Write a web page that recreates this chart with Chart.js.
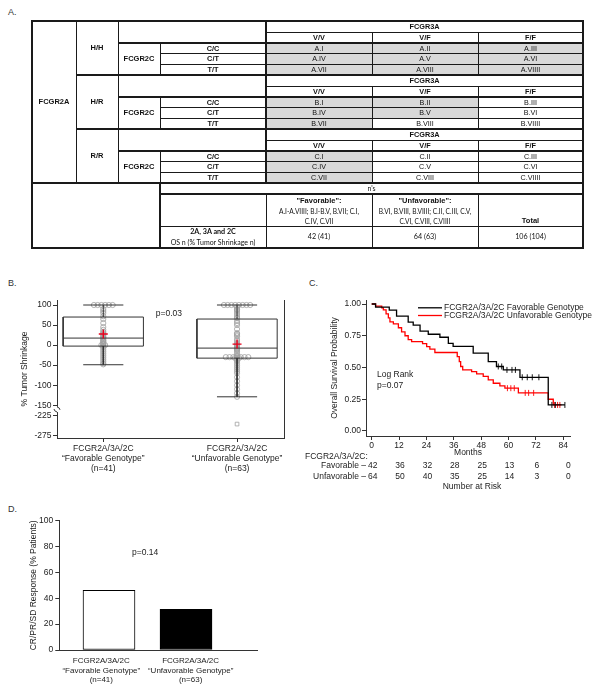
<!DOCTYPE html>
<html><head><meta charset="utf-8">
<script src="https://cdn.jsdelivr.net/npm/chart.js@4.4.1/dist/chart.umd.min.js"></script>
<style>
body{margin:0;background:#fff;width:598px;height:696px;position:relative;overflow:hidden;font-family:"Liberation Sans",Arial,sans-serif;color:#111}
canvas{position:absolute}
.lbl{position:absolute;font-size:9px;line-height:9px;color:#333}
#tbl{position:absolute;left:0;top:0;width:598px;height:260px;filter:grayscale(1);will-change:transform}
#tbl div{position:absolute;box-sizing:border-box}
.t{display:flex;align-items:center;justify-content:center;text-align:center;line-height:1;white-space:nowrap;color:#111}
</style></head><body>
<div class="lbl" style="left:8px;top:8px">A.</div>
<div class="lbl" style="left:8px;top:279px">B.</div>
<div class="lbl" style="left:309px;top:279px">C.</div>
<div class="lbl" style="left:8px;top:505px">D.</div>
<div id="tbl"></div>
<canvas id="cb" width="300" height="192" style="left:0;top:290px"></canvas>
<canvas id="cc" width="298" height="210" style="left:300px;top:290px"></canvas>
<canvas id="cd" width="300" height="191" style="left:0;top:505px"></canvas>
<script>
// ================= DATA =================
// Panel A
const blockGeno2A = ['H/H','H/R','R/R'];
const blockLetters = ['A','B','C'];
const geno2C = ['C/C','C/T','T/T'];
const geno3A = ['V/V','V/F','F/F'];
const numerals = ['I','II','III','IV','V','VI','VII','VIII','VIIII'];
const favorableCells = [[1,1,1,1,1,1,1,1,1],[1,1,0,1,1,0,1,0,0],[1,0,0,1,0,0,1,0,0]];
const groupTitles = ['"Favorable":','"Unfavorable":','Total'];
const groupMembers = [['A.I-A.VIIII; B.I-B.V, B.VII; C.I,','C.IV, C.VII'],['B.VI, B.VIII, B.VIIII; C.II, C.III, C.V,','C.VI, C.VIII, C.VIIII'],[]];
const groupCounts = ['42 (41)','64 (63)','106 (104)'];

// Shared categories (B, D)
const groupLabels = [['FCGR2A/3A/2C','“Favorable Genotype”','(n=41)'],['FCGR2A/3A/2C','“Unfavorable Genotype”','(n=63)']];

// Panel B (% tumor shrinkage)
const shrinkTicks = [100,50,0,-50,-100,-150,-225,-275];
const shrinkFav = [100,100,100,100,100,100,90,85,80,72,65,55,45,38,33,30,27,25,22,19,18,15,12,10,8,5,3,2,0,0,-2,-5,-10,-15,-20,-25,-30,-35,-40,-45,-48];
const shrinkUnf = [100,100,100,100,100,100,100,100,95,90,88,85,80,75,70,67,60,55,50,40,30,28,25,22,15,10,5,2,0,-2,-5,-8,-10,-12,-15,-20,-25,-28,-30,-30,-30,-30,-30,-30,-30,-32,-32,-35,-38,-40,-45,-50,-55,-60,-65,-70,-80,-90,-100,-110,-120,-129,-247];
const whiskerHigh = [100,100];
const quartile3 = [70,65];
const medians = [17.5,-7.5];
const quartile1 = [-2.5,-32.5];
const whiskerLow = [-49,-129];
const means = [27.5,2.5];

// Panel C (Kaplan-Meier)
const kmMonthTicks = [0,12,24,36,48,60,72,84];
const kmSurvTicks = [0,0.25,0.5,0.75,1];
const favTime = [0,1.7,7.7,10.9,16.0,18.2,21.2,24.8,29.9,33.6,35.7,44.5,51.1,54.7,57.7,65.0,77.4,84.7];
const favSurv = [1.0,0.976,0.952,0.905,0.857,0.833,0.786,0.762,0.738,0.69,0.667,0.613,0.547,0.508,0.481,0.423,0.205,0.205];
const unfTime = [0,1.7,4.4,5.1,6.3,7.3,8.0,9.5,11.7,13.1,14.6,16.0,17.5,22.3,24.1,25.5,27.7,37.5,38.4,39.0,39.9,43.8,46.0,48.9,51.1,53.3,56.2,58.4,64.3,77.4,79.6,83.2];
const unfSurv = [1.0,0.984,0.969,0.953,0.922,0.891,0.859,0.844,0.813,0.781,0.75,0.719,0.703,0.688,0.665,0.644,0.618,0.586,0.547,0.508,0.481,0.468,0.45,0.43,0.402,0.376,0.355,0.337,0.30,0.25,0.205,0.205];
const favCensorTime = [55.5,57.0,59.3,61.5,63.0,66.0,68.2,70.4,73.3,79.0,80.5,84.7];
const favCensorSurv = [0.508,0.508,0.481,0.481,0.481,0.423,0.423,0.423,0.423,0.205,0.205,0.205];
const unfCensorTime = [59.5,61.0,62.5,67.3,68.8,71.0,80.2,81.5,82.5];
const unfCensorSurv = [0.337,0.337,0.337,0.30,0.30,0.30,0.205,0.205,0.205];
const riskFav = [42,36,32,28,25,13,6,0];
const riskUnf = [64,50,40,35,25,14,3,0];

// Panel D (response)
const responsePct = [46.2,31.5];
const responseTicks = [0,20,40,60,80,100];

// ================= PANEL A (table) =================
const X=[32,76,118,160,266,372,478,583];
const T=document.getElementById('tbl');
function el(x1,y1,x2,y2,style,html,cls){const d=document.createElement('div');d.style.cssText=`left:${x1}px;top:${y1}px;width:${x2-x1}px;height:${y2-y1}px;`+(style||'');if(cls)d.className=cls;if(html!==undefined)d.textContent=html;T.appendChild(d);return d;}
function cell(x1,y1,x2,y2,txt,bold,size,fam){return el(x1,y1,x2,y2,`font-size:${size||7.3}px;${bold?'font-weight:bold;':''}${fam?'font-family:'+fam+';':''}`,txt,'t');}
function hl(x1,x2,y,w){el(x1,y-w/2,x2,y+w/2,'background:#1a1a1a');}
function vl(x,y1,y2,w){el(x-w/2,y1,x+w/2,y2,'background:#1a1a1a');}
const RY=[0,11,22,32.67,43.33,54];
blockGeno2A.forEach((g,b)=>{
  const y0=21+54*b;
  for(let r=0;r<3;r++)for(let c=0;c<3;c++){
    if(favorableCells[b][r*3+c]) el(X[4+c],y0+RY[2+r],X[5+c],y0+RY[3+r],'background:#d9d9d9');
  }
  cell(X[1],y0,X[2],y0+54,g,true,7.5);
  cell(X[4],y0,X[7],y0+11,'FCGR3A',true);
  geno3A.forEach((h,c)=>cell(X[4+c],y0+11,X[5+c],y0+22,h,true));
  cell(X[2],y0+22,X[3],y0+54,'FCGR2C',true,7.5);
  geno2C.forEach((h,r)=>cell(X[3],y0+RY[2+r],X[4],y0+RY[3+r],h,true));
  for(let r=0;r<3;r++)for(let c=0;c<3;c++){
    cell(X[4+c],y0+RY[2+r],X[5+c],y0+RY[3+r],blockLetters[b]+'.'+numerals[r*3+c],false,7.2);
  }
  if(b>0) hl(X[1],X[7],y0,2);
  hl(X[4],X[7],y0+11,1);
  hl(X[2],X[7],y0+22,2);
  hl(X[3],X[7],y0+RY[3],1);
  hl(X[3],X[7],y0+RY[4],1);
  vl(X[2],y0,y0+54,1);
  vl(X[3],y0+22,y0+54,1);
  vl(X[4],y0,y0+54,2);
  vl(X[5],y0+11,y0+54,1);
  vl(X[6],y0+11,y0+54,1);
});
cell(X[0],21,X[1],183,'FCGR2A',true,7.5);
vl(X[1],21,183,1);
// bottom part
hl(X[0],X[7],183,2);
cell(X[3],183,X[7],194,"n's",false,7,'Lato');
groupTitles.forEach((t,i)=>{
  const x1=X[4+i],x2=X[5+i];
  if(i<2){
    cell(x1,196,x2,205,t,true,7.5);
    groupMembers[i].forEach((ln,k)=>cell(x1,207+k*9.5,x2,216+k*9.5,ln,false,6.6,'Lato'));
  } else cell(x1,216,x2,226,t,true,7.5);
  cell(x1,226,x2,248,groupCounts[i],false,7.2,'Lato');
});
cell(X[3],227,X[4],237,'2A, 3A and 2C',true,7.2,'Lato');
cell(X[3],238,X[4],247,'OS n (% Tumor Shrinkage n)',false,7,'Lato');
hl(X[3],X[7],194,2);
hl(X[3],X[7],226,1);
vl(X[3],183,248,2);
vl(X[4],194,248,1);vl(X[5],194,248,1);vl(X[6],194,248,1);
// outer border
hl(X[0]-1,X[7]+1,21,2);hl(X[0]-1,X[7]+1,248,2);vl(X[0],21,248,2);vl(X[7],21,248,2);

// ================= CHART DEFAULTS =================
const FONT='"Liberation Sans", Arial, sans-serif';
Chart.defaults.font.family=FONT;
Chart.defaults.font.size=8.5;
Chart.defaults.color='#222';
Chart.defaults.animation=false;
Chart.defaults.plugins.legend.display=false;
Chart.defaults.plugins.tooltip.enabled=false;
const fixW=w=>s=>{s.width=w;};
const fixH=h=>s=>{s.height=h;};

// ================= PANEL B =================
const BREAK_AT=-150, BREAK_GAP=50;
const ax=v=>v<BREAK_AT?v+BREAK_GAP:v;
const unax=v=>v<BREAK_AT?v-BREAK_GAP:v;
function boxPath(g){
  const h=0.3,c=0.15,gap={x:g,y:null};
  return [
    {x:g-h,y:ax(quartile1[g])},{x:g+h,y:ax(quartile1[g])},{x:g+h,y:ax(quartile3[g])},{x:g-h,y:ax(quartile3[g])},{x:g-h,y:ax(quartile1[g])},gap,
    {x:g-h,y:ax(medians[g])},{x:g+h,y:ax(medians[g])},gap,
    {x:g,y:ax(quartile3[g])},{x:g,y:ax(whiskerHigh[g])},gap,
    {x:g-c,y:ax(whiskerHigh[g])},{x:g+c,y:ax(whiskerHigh[g])},gap,
    {x:g,y:ax(quartile1[g])},{x:g,y:ax(whiskerLow[g])},gap,
    {x:g-c,y:ax(whiskerLow[g])},{x:g+c,y:ax(whiskerLow[g])}
  ];
}
function swarm(values,g){
  const counts={},seen={};
  values.forEach(v=>counts[v]=(counts[v]||0)+1);
  return values.map(v=>{const i=(seen[v]=(seen[v]||0)+1)-1;const n=counts[v];return {x:g+(i-(n-1)/2)*0.028,y:ax(v)};});
}
const ptStyle={type:'scatter',showLine:false,pointRadius:2.6,borderWidth:0.8,pointBorderColor:'#a0a0a0',pointBackgroundColor:'rgba(255,255,255,0)',
  pointStyle:ctx=>(ctx.raw&&ctx.raw.y<BREAK_AT)?'rect':'circle',order:3};
const bPlugin={id:'bextra',afterDraw(chart){
  const {ctx,scales:{x,y},chartArea}=chart;
  ctx.save();
  const xl=chartArea.left, y1=y.getPixelForValue(-154), y2=y.getPixelForValue(-167);
  ctx.fillStyle='#fff';ctx.fillRect(xl-2,y1,4,y2-y1);
  ctx.strokeStyle='#333';ctx.lineWidth=1;
  ctx.beginPath();ctx.moveTo(xl,y1);ctx.quadraticCurveTo(xl+3,y1+1,xl+3,y1+3);ctx.stroke();
  ctx.beginPath();ctx.moveTo(xl-3,y2-3);ctx.quadraticCurveTo(xl-3,y2-1,xl,y2);ctx.stroke();
  ctx.fillStyle='#222';ctx.font='8.5px '+FONT;ctx.textAlign='center';ctx.textBaseline='middle';
  ctx.fillText('p=0.03',x.getPixelForValue(0.49),y.getPixelForValue(78));
  ctx.restore();
}};
new Chart(document.getElementById('cb'),{
  type:'scatter',
  data:{datasets:[
    {data:[0,1].map(g=>({x:g,y:ax(means[g])})),pointStyle:'cross',pointRadius:4.5,pointBorderColor:'#e8001c',borderWidth:1.4,pointBorderWidth:1.4,order:0},
    {data:boxPath(0),showLine:true,spanGaps:false,borderColor:'#333',borderWidth:1,pointRadius:0,order:1},
    {data:boxPath(1),showLine:true,spanGaps:false,borderColor:'#333',borderWidth:1,pointRadius:0,order:1},
    Object.assign({data:swarm(shrinkFav,0)},ptStyle),
    Object.assign({data:swarm(shrinkUnf,1)},ptStyle)
  ]},
  plugins:[bPlugin],
  options:{responsive:false,devicePixelRatio:1,
    layout:{padding:{left:0,right:16,top:10,bottom:0}},
    scales:{
      x:{type:'linear',min:-0.346,max:1.351,afterFit:fixH(44),
        afterBuildTicks:s=>{s.ticks=[0,1].map(v=>({value:v}));},
        ticks:{callback:(v,i)=>groupLabels[i],maxRotation:0,padding:1.5,color:'#222'},
        grid:{drawOnChartArea:false,drawTicks:true,tickLength:4,color:'#333'},
        border:{display:true,color:'#333',width:1}},
      y:{type:'linear',min:-231.75,max:112.5,afterFit:fixW(57),
        afterBuildTicks:s=>{s.ticks=shrinkTicks.map(v=>({value:ax(v)}));},
        ticks:{callback:v=>String(unax(v)),padding:1.5,color:'#222'},
        grid:{drawOnChartArea:false,tickLength:4,color:'#333'},
        border:{display:true,color:'#333',width:1},
        title:{display:true,text:'% Tumor Shrinkage',padding:{top:20,bottom:0},color:'#222'}},
      y2:{type:'linear',position:'right',min:0,max:1,afterFit:fixW(0),
        ticks:{display:false},grid:{drawOnChartArea:false,drawTicks:false},
        border:{display:true,color:'#333',width:1}}
    }}
});

// ================= PANEL C =================
const cPlugin={id:'cextra',afterDraw(chart){
  const {ctx,scales:{x,y},chartArea}=chart;
  const ds=chart.data.datasets;
  ctx.save();
  ctx.font='8.5px '+FONT;ctx.textBaseline='middle';
  // legend
  [0,1].forEach(i=>{
    const yy=chartArea.top+7.8+i*7.7, x0=chartArea.left+52;
    ctx.strokeStyle=ds[i].borderColor;ctx.lineWidth=1.3;
    ctx.beginPath();ctx.moveTo(x0,yy);ctx.lineTo(x0+24,yy);ctx.stroke();
    ctx.fillStyle='#222';ctx.textAlign='left';ctx.fillText(ds[i].label,x0+26,yy);
  });
  // log rank
  ctx.textAlign='left';
  ctx.fillText('Log Rank',x.getPixelForValue(2.3),y.getPixelForValue(0.44));
  ctx.fillText('p=0.07',x.getPixelForValue(2.3),y.getPixelForValue(0.36));
  // number at risk
  const base=chartArea.bottom;
  ctx.fillText('FCGR2A/3A/2C:',5,base+21);
  ctx.textAlign='right';
  ctx.fillText('Favorable –',chartArea.left,base+29.5);
  ctx.fillText('Unfavorable –',chartArea.left,base+41);
  ctx.textAlign='center';
  kmMonthTicks.forEach((m,i)=>{
    const px=x.getPixelForValue(m)+(i===kmMonthTicks.length-1?5:1);
    ctx.fillText(String(riskFav[i]),px,base+29.5);
    ctx.fillText(String(riskUnf[i]),px,base+41);
  });
  ctx.fillText('Number at Risk',(chartArea.left+chartArea.right)/2+4,base+50.5);
  ctx.restore();
}};
const xy=(t,s)=>t.map((v,i)=>({x:v,y:s[i]}));
new Chart(document.getElementById('cc'),{
  type:'scatter',
  data:{datasets:[
    {label:'FCGR2A/3A/2C Favorable Genotype',data:xy(favTime,favSurv),showLine:true,stepped:'before',borderColor:'#000000',borderWidth:1.3,pointRadius:0,order:0},
    {label:'FCGR2A/3A/2C Unfavorable Genotype',data:xy(unfTime,unfSurv),showLine:true,stepped:'before',borderColor:'#ff0000',borderWidth:1.3,pointRadius:0,order:1},
    {data:xy(favCensorTime,favCensorSurv),pointStyle:'line',rotation:90,pointRadius:3,pointBorderColor:'#000',pointBorderWidth:0.9,order:0},
    {data:xy(unfCensorTime,unfCensorSurv),pointStyle:'line',rotation:90,pointRadius:3,pointBorderColor:'#ff0000',pointBorderWidth:0.9,order:1}
  ]},
  plugins:[cPlugin],
  options:{responsive:false,devicePixelRatio:1,
    layout:{padding:{left:0,right:28,top:10,bottom:0}},
    scales:{
      x:{type:'linear',min:-2.5,max:86.94,afterFit:fixH(64),
        afterBuildTicks:s=>{s.ticks=kmMonthTicks.map(v=>({value:v}));},
        ticks:{padding:1,maxRotation:0,color:'#222'},
        grid:{drawOnChartArea:false,tickLength:4,color:'#333'},
        border:{display:true,color:'#333'},
        title:{display:true,text:'Months',padding:{top:0,bottom:42},color:'#222'}},
      y:{type:'linear',min:-0.0394,max:1.0315,afterFit:fixW(66),
        afterBuildTicks:s=>{s.ticks=kmSurvTicks.map(v=>({value:v}));},
        ticks:{callback:v=>v.toFixed(2),padding:1,color:'#222'},
        grid:{drawOnChartArea:false,tickLength:4,color:'#333'},
        border:{display:true,color:'#333'},
        title:{display:true,text:'Overall Survival Probability',padding:{top:30,bottom:0},color:'#222'}}
    }}
});

// ================= PANEL D =================
const dPlugin={id:'dextra',afterDraw(chart){
  const {ctx,scales:{x,y}}=chart;
  ctx.save();ctx.font='8.5px '+FONT;ctx.fillStyle='#222';ctx.textAlign='center';ctx.textBaseline='middle';
  ctx.fillText('p=0.14',x.getPixelForValue(0.47),y.getPixelForValue(75.6));
  ctx.restore();
}};
new Chart(document.getElementById('cd'),{
  type:'bar',
  data:{datasets:[{data:responsePct.map((v,i)=>({x:i,y:v})),backgroundColor:['#ffffff','#000000'],borderColor:'#000',borderWidth:1,barThickness:52,borderSkipped:false}]},
  plugins:[dPlugin],
  options:{responsive:false,devicePixelRatio:1,
    layout:{padding:{left:0,right:43,top:15.7,bottom:0}},
    scales:{
      x:{type:'linear',min:-0.6455,max:1.922,offset:false,afterFit:fixH(46),
        afterBuildTicks:s=>{s.ticks=[-0.1,1.06].map(v=>({value:v}));},
        ticks:{callback:(v,i)=>groupLabels[i],maxRotation:0,padding:6,color:'#222',font:{size:8}},
        grid:{display:false,drawTicks:false},
        border:{display:true,color:'#333'}},
      y:{type:'linear',min:0,max:100,afterFit:fixW(59.3),
        afterBuildTicks:s=>{s.ticks=responseTicks.map(v=>({value:v}));},
        ticks:{padding:2,color:'#222'},
        grid:{drawOnChartArea:false,tickLength:4,color:'#333'},
        border:{display:true,color:'#333'},
        title:{display:true,text:'CR/PR/SD Response (% Patients)',padding:{top:28.4,bottom:0},color:'#222'}}
    }}
});
</script>
</body></html>
